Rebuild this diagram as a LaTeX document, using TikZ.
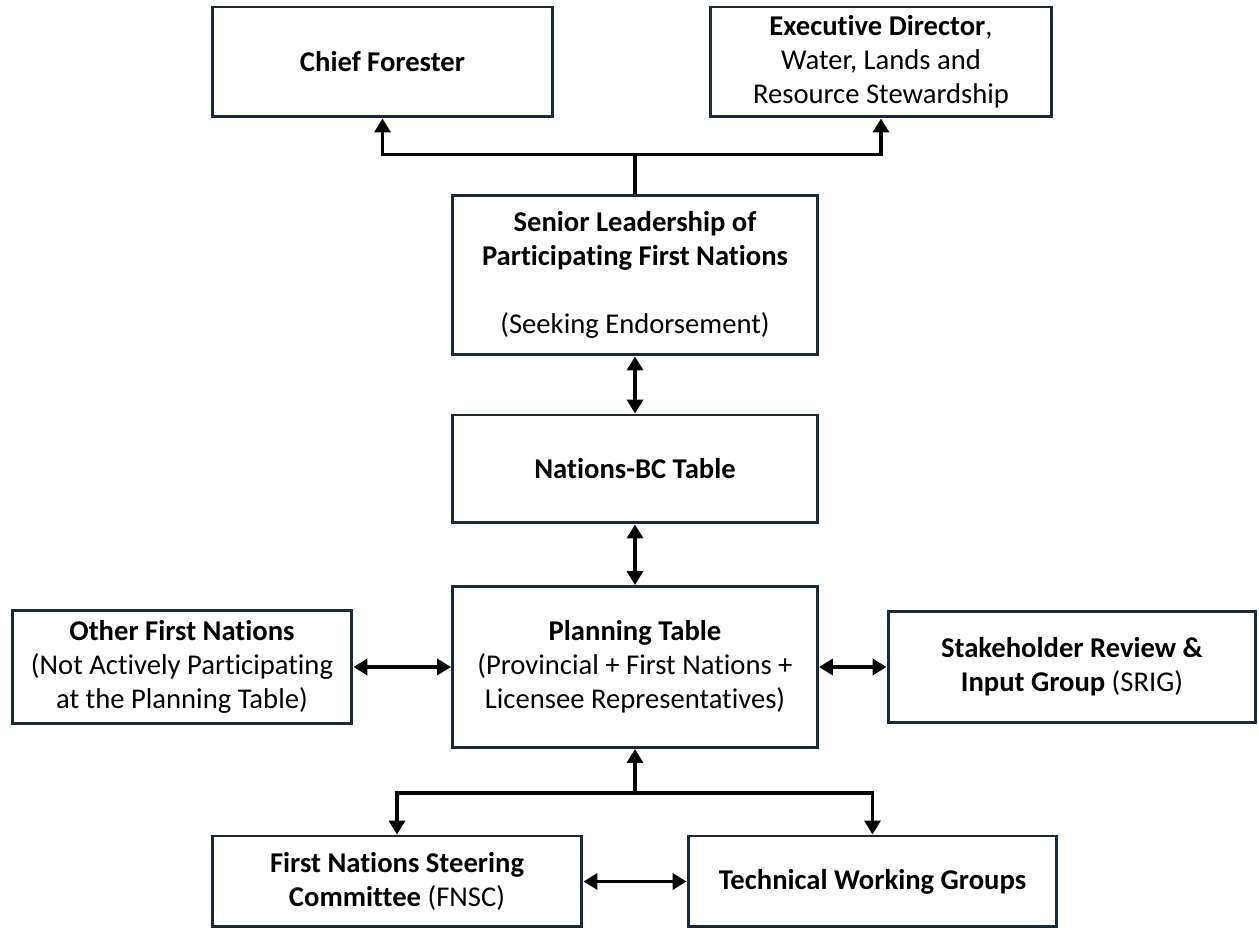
\documentclass[tikz,border=0pt]{standalone}
\usepackage{fontspec}
\setmainfont{Carlito}[Ligatures={NoCommon}]
\usetikzlibrary{positioning,arrows.meta}
\definecolor{boxline}{HTML}{1B2A38}
\tikzstyle{box} = [rectangle, text centered, align=center,
    draw=boxline, line width=1.7pt, fill=white,
    font=\fontsize{16.3}{19.5}\selectfont]
\tikzstyle{arrow} = [-{Triangle[length=2.8mm,width=3.2mm]}, line width=2pt]
\tikzstyle{darrow} = [{Triangle[length=2.8mm,width=3.2mm]}-{Triangle[length=2.8mm,width=3.2mm]}, line width=2pt]
\tikzstyle{joint} = [line width=2pt]

\begin{document}
\begin{tikzpicture}[%
x=0.02cm, y=-0.02cm,
black,
text=black,
]
\useasboundingbox (0,0) rectangle (1259,928);

\node[box, minimum width=6.82cm, minimum height=2.2cm] (chief) at (382.5,62) {\textbf{Chief Forester}};
\node[box, minimum width=6.84cm, minimum height=2.2cm] (execdir) at (881,62)
    {\textbf{Executive Director},\\Water, Lands and\\Resource Stewardship};
\node[box, minimum width=7.3cm, minimum height=3.2cm] (senior) at (635,275)
    {\textbf{Senior Leadership of}\\\textbf{Participating First Nations}\\[19.5pt](Seeking Endorsement)};
\node[box, minimum width=7.3cm, minimum height=2.16cm] (nbc) at (635,469) {\textbf{Nations-BC Table}};
\node[box, minimum width=7.3cm, minimum height=3.22cm] (plan) at (635,667)
    {\textbf{Planning Table}\\(Provincial + First Nations +\\Licensee Representatives)};
\node[box, minimum width=6.8cm, minimum height=2.26cm] (other) at (182,667)
    {\textbf{Other First Nations}\\(Not Actively Participating\\at the Planning Table)};
\node[box, minimum width=7.36cm, minimum height=2.22cm] (srig) at (1072,667)
    {\textbf{Stakeholder Review \&}\\\textbf{Input Group} (SRIG)};
\node[box, minimum width=7.4cm, minimum height=1.82cm] (fnsc) at (397,881.5)
    {\textbf{First Nations Steering}\\\textbf{Committee} (FNSC)};
\node[box, minimum width=7.38cm, minimum height=1.82cm] (twg) at (872.5,881.5) {\textbf{Technical Working Groups}};

\coordinate (m1) at ([yshift=0.78cm]senior.north);
\coordinate (m2) at ([yshift=-0.88cm]plan.south);

\draw [joint] (senior.north) -- (m1);
\draw [arrow] (m1) -| (chief);
\draw [arrow] (m1) -| (execdir);
\draw [darrow] (senior) -- (nbc);
\draw [darrow] (nbc) -- (plan);
\draw [darrow] (other) -- (plan);
\draw [darrow] (plan) -- (srig);
\draw [arrow] (m2) -- (plan);
\draw [arrow] (m2) -| (fnsc);
\draw [arrow] (m2) -| (twg);
\draw [darrow] (fnsc) -- (twg);

\end{tikzpicture}
\end{document}
